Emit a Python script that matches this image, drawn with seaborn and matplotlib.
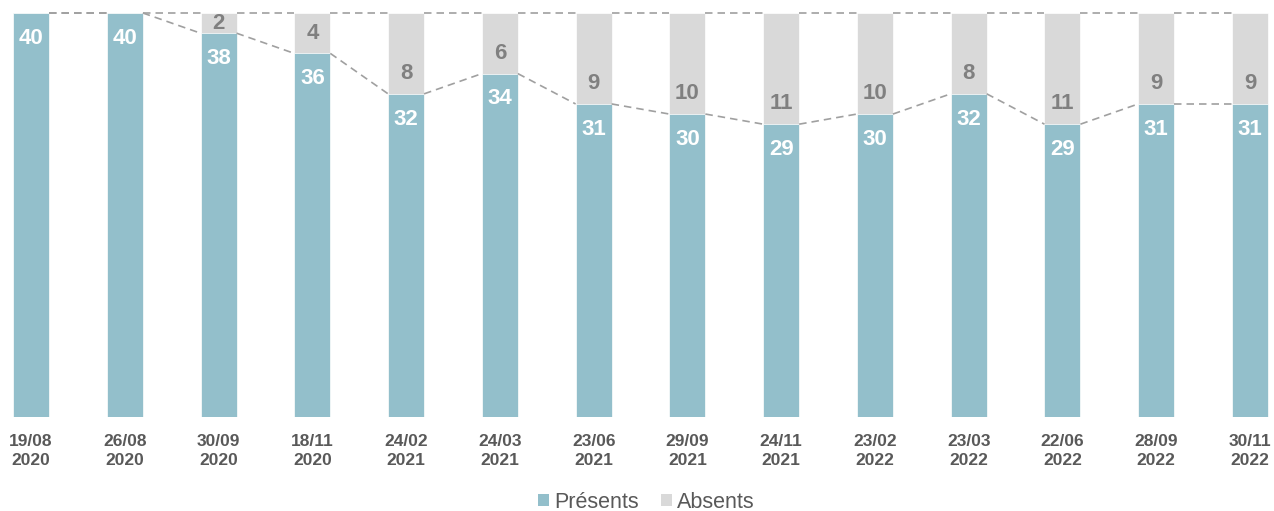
import matplotlib
matplotlib.use("Agg")
import matplotlib.pyplot as plt
import seaborn as sns
import pandas as pd
from matplotlib.patches import Patch

dates = ["19/08\n2020", "26/08\n2020", "30/09\n2020", "18/11\n2020", "24/02\n2021",
         "24/03\n2021", "23/06\n2021", "29/09\n2021", "24/11\n2021", "23/02\n2022",
         "23/03\n2022", "22/06\n2022", "28/09\n2022", "30/11\n2022"]
presents = [40, 40, 38, 36, 32, 34, 31, 30, 29, 30, 32, 29, 31, 31]
absents = [0, 0, 2, 4, 8, 6, 9, 10, 11, 10, 8, 11, 9, 9]

TEAL = "#93BFCB"
GREY = "#D9D9D9"
TXT = "#595959"
ABS_TXT = "#808080"
LINE = "#A0A0A0"

sns.set_theme(style="white")
plt.rcParams["font.family"] = ["Liberation Sans", "DejaVu Sans"]

df = pd.DataFrame({"date": dates, "presents": presents, "absents": absents})
df["total"] = df["presents"] + df["absents"]

fig = plt.figure(figsize=(12.74, 5.11), dpi=100)
ax = fig.add_axes([0.0, 0.1834, 1.0, 0.7912])

W = 0.384
sns.barplot(data=df, x="date", y="total", color=GREY, width=W, ax=ax,
            saturation=1, edgecolor="white", linewidth=0.5)
sns.barplot(data=df, x="date", y="presents", color=TEAL, width=W, ax=ax,
            saturation=1, edgecolor="white", linewidth=0.5)

n = len(dates)
# series lines between bars
for i in range(n - 1):
    x0, x1 = i + W / 2, i + 1 - W / 2
    ax.plot([x0, x1], [df["total"][i], df["total"][i + 1]], color=LINE,
            lw=1.2, dashes=(4.5, 3), clip_on=False, zorder=1)
    ax.plot([x0, x1], [presents[i], presents[i + 1]], color=LINE,
            lw=1.2, dashes=(4.5, 3), clip_on=False, zorder=1)

for i in range(n):
    ax.text(i, presents[i] - 2.5, str(presents[i]), ha="center", va="center",
            color="white", fontsize=16, fontweight="bold")
    if absents[i] > 0:
        ax.text(i, presents[i] + min(2.0, absents[i] / 2), str(absents[i]),
                ha="center", va="center", color=ABS_TXT, fontsize=16,
                fontweight="bold")

ax.set_xlim(-0.331, 13.256)
ax.set_ylim(0, 40)
ax.set_xlabel("")
ax.set_ylabel("")
ax.set_yticks([])
ax.tick_params(axis="x", length=0, pad=12, labelsize=12.5, labelcolor=TXT)
for lbl in ax.get_xticklabels():
    lbl.set_fontweight("bold")
    lbl.set_linespacing(1.32)
for s in ax.spines.values():
    s.set_visible(False)

handles = [Patch(facecolor=TEAL, edgecolor="none", label="Présents"),
           Patch(facecolor=GREY, edgecolor="none", label="Absents")]
leg = fig.legend(handles=handles, loc="center",
                 bbox_to_anchor=(646.5 / 1274, 1 - 502 / 511),
                 ncol=2, frameon=False, fontsize=15.5, handlelength=0.5,
                 handleheight=0.5, handletextpad=0.25, columnspacing=1.0)
for t in leg.get_texts():
    t.set_color(TXT)

fig.savefig("out.png", dpi=100)
